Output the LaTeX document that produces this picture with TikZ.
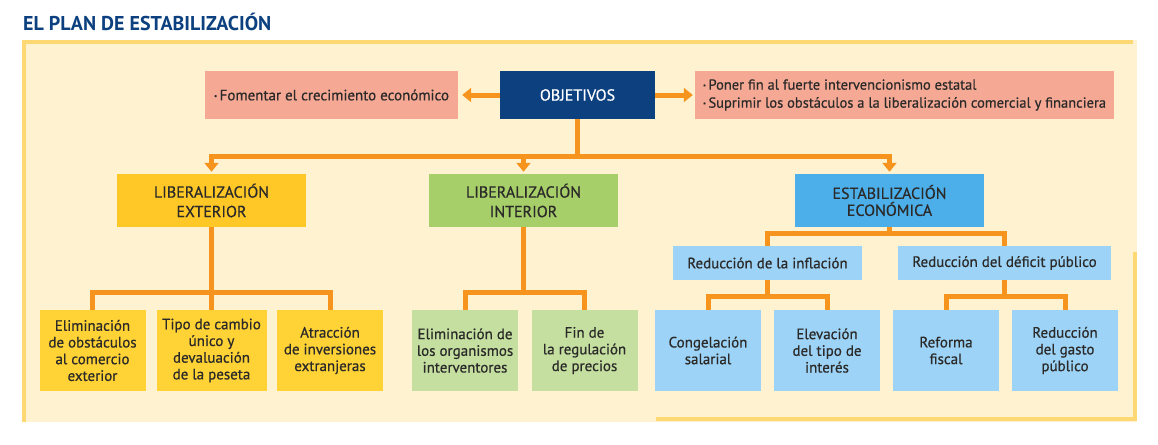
\documentclass[tikz,border=0pt]{standalone}
\usepackage{fontspec}
\setmainfont{PT Sans}
\newfontfamily\cajafont{PT Sans}[FakeBold=0.6]
\usetikzlibrary{arrows.meta}
\definecolor{crema}{HTML}{FFF2D1}
\definecolor{marco}{HTML}{FDD873}
\definecolor{naranja}{HTML}{F7941D}
\definecolor{azulosc}{HTML}{0C407F}
\definecolor{rosa}{HTML}{F5A995}
\definecolor{amarillo}{HTML}{FFC826}
\definecolor{amarclaro}{HTML}{FFD235}
\definecolor{verde}{HTML}{A6CE69}
\definecolor{verdeclaro}{HTML}{C4DFA0}
\definecolor{azul}{HTML}{4CAFEA}
\definecolor{azulclaro}{HTML}{9CD3F6}
\definecolor{texto}{HTML}{2B2A29}
\newcommand{\punto}{\raisebox{2pt}{\scriptsize\textbullet}\,}

\begin{document}
\begin{tikzpicture}[x=1pt, y=-1pt,
   txt/.style={text=texto, font=\cajafont\fontsize{15}{16.7}\selectfont, align=center, inner sep=0pt},
   goal/.style={txt, fill=rosa, minimum height=48pt},
   head/.style={txt, font=\cajafont\fontsize{16}{19.5}\selectfont, minimum width=189pt, minimum height=53pt},
   mid/.style={txt, fill=azulclaro, minimum width=189pt, minimum height=34pt},
   leaf/.style={txt, minimum width=106pt, minimum height=81pt},
   conn/.style={draw=naranja, line width=5pt},
   arr/.style={conn, -{Triangle[width=14pt,length=9pt]}},]
   \useasboundingbox (0,0) rectangle (1158,444);
   \fill[crema] (22,40) rectangle (1137,422);
   \draw[marco, line width=4pt] (24,422) -- (24,42) -- (1133,42);
   \draw[marco, line width=4pt] (1135,252) -- (1135,419) -- (656,419);
   \node[anchor=base west, inner sep=0pt, text=azulosc, font=\bfseries\fontsize{20}{22}\selectfont] (titulo) at (23,31) {EL PLAN DE ESTABILIZACIÓN};

   \node[txt, fill=azulosc, text=white, font=\cajafont\fontsize{16}{18}\selectfont, minimum width=155pt, minimum height=48pt] (obj) at (577.5,95) {OBJETIVOS};
   \node[goal, minimum width=253pt] (fomentar) at (331.5,95) {\punto Fomentar el crecimiento económico};
   \node[goal, minimum width=419pt, align=left, font=\cajafont\fontsize{14.5}{18}\selectfont] (poner) at (904.5,95)
      {\punto Poner fin al fuerte intervencionismo estatal\\\punto Suprimir los obstáculos a la liberalización comercial y financiera};

   \node[head, fill=amarillo] (libext) at (211.5,200.5) {LIBERALIZACIÓN\\EXTERIOR};
   \node[head, fill=verde] (libint) at (523.5,200.5) {LIBERALIZACIÓN\\INTERIOR};
   \node[head, fill=azul, font=\cajafont\fontsize{16}{17}\selectfont] (estab) at (889.5,200.5) {ESTABILIZACIÓN\\ECONÓMICA};
   \node[mid] (inflac) at (767.5,263) {Reducción de la inflación};
   \node[mid, minimum width=213pt] (deficit) at (1004.5,263) {Reducción del déficit público};

   \node[leaf, fill=amarclaro] (obst) at (92.5,350.5) {Eliminación\\de obstáculos\\al comercio\\exterior};
   \node[leaf, fill=amarclaro, minimum width=110pt] (cambio) at (211.5,350.5) {Tipo de cambio\\único y\\devaluación\\de la peseta};
   \node[leaf, fill=amarclaro] (inver) at (330,350.5) {Atracción\\de inversiones\\extranjeras};
   \node[leaf, fill=verdeclaro] (organ) at (465,350.5) {Eliminación de\\los organismos\\interventores};
   \node[leaf, fill=verdeclaro] (precios) at (584.5,350.5) {Fin de\\la regulación\\de precios};
   \node[leaf, fill=azulclaro] (salar) at (708,350.5) {Congelación\\salarial};
   \node[leaf, fill=azulclaro] (interes) at (827,350.5) {Elevación\\del tipo de\\interés};
   \node[leaf, fill=azulclaro] (fiscal) at (946,350.5) {Reforma\\fiscal};
   \node[leaf, fill=azulclaro] (gasto) at (1065,350.5) {Reducción\\del gasto\\público};

   % objetivos
   \draw[arr] (obj.west) -- ([xshift=4pt]fomentar.east);
   \draw[arr] (obj.east) -- ([xshift=-2pt]poner.west);
   \draw[conn] (obj.south) -- (obj.south |- 0,156) coordinate (bus);
   \draw[arr] (bus) -| ([yshift=2pt]libext.north);
   \draw[arr] (bus) -| ([yshift=2pt]libint.north);
   \draw[arr] (bus) -| ([yshift=2pt]estab.north);
   % ramas
   \draw[conn] (libext.south) -- (libext.south |- cambio.north);
   \draw[conn] (obst.north) |- (inver.north |- 0,292) -- (inver.north);
   \draw[conn] (libint.south) -- (libint.south |- 0,292);
   \draw[conn] (organ.north) |- (precios.north |- 0,292) -- (precios.north);
   \draw[conn] (estab.south) -- (estab.south |- 0,233);
   \draw[conn] (inflac.north) |- (deficit.north |- 0,233) -- (deficit.north);
   \draw[conn] (inflac.south) -- (inflac.south |- 0,296);
   \draw[conn] (salar.north) |- (interes.north |- 0,296) -- (interes.north);
   \draw[conn] (deficit.south) -- (deficit.south |- 0,296);
   \draw[conn] (fiscal.north) |- (gasto.north |- 0,296) -- (gasto.north);
   %\draw[conn] (inver.south) -- ++(0,20);
\end{tikzpicture}
\end{document}
